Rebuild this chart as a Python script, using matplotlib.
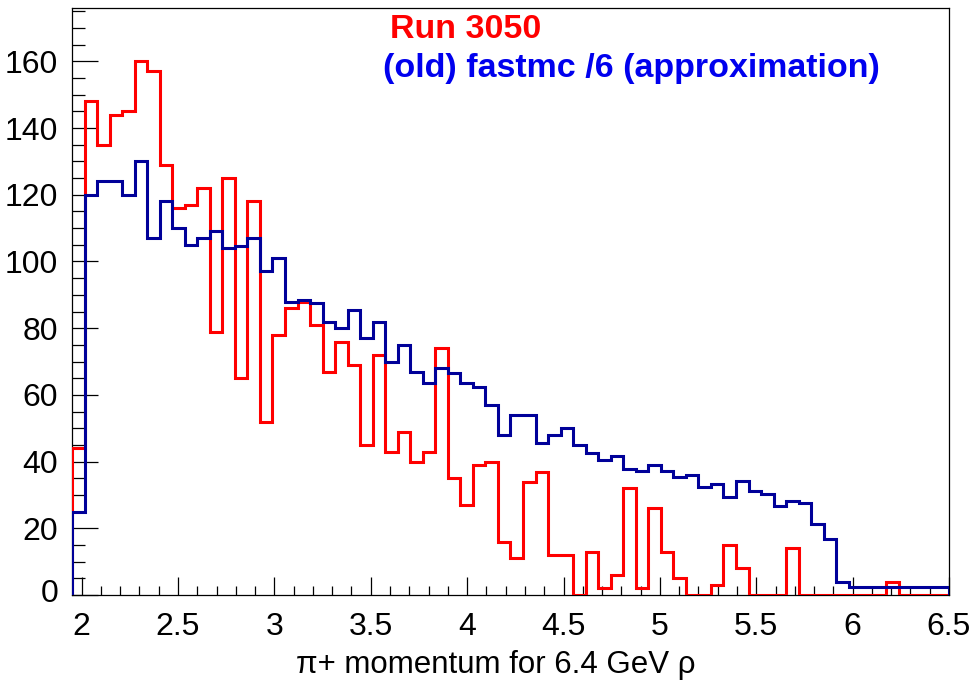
import numpy as np
import matplotlib
matplotlib.use("Agg")
import matplotlib.pyplot as plt
from matplotlib.ticker import MultipleLocator, FixedLocator, FixedFormatter
from matplotlib.transforms import ScaledTranslation

# Histogram binning: 100 bins over [0, 6.5], shown from bin 30 (1.95) upward
bin_lo, bin_hi, n_bins = 1.95, 6.5, 70
edges = np.linspace(bin_lo, bin_hi, n_bins + 1)

# Run 3050 data (counts per bin)
run3050 = [44, 148, 135, 144, 145, 160, 157, 129, 116, 117,
           122, 79, 125, 65, 118, 52, 78, 86, 88, 81,
           67, 76, 69, 45, 72, 43, 49, 40, 43, 74,
           35, 27, 39, 40, 16, 11, 34, 37, 12, 12,
           0, 13, 2, 6, 32, 2, 26, 13, 5, 0,
           0, 3, 15, 8, 0, 0, 0, 14, 0, 0,
           0, 0, 0, 0, 0, 4, 0, 0, 0, 0]

# (old) fastmc, scaled by 1/6
fastmc = [25, 120, 124, 124, 120, 130, 107, 118, 110, 105,
          107, 109, 104, 104.5, 107, 97, 101, 88, 88.5, 87.5,
          82, 80, 85.5, 77, 82, 70, 75, 67, 63.5, 68,
          66.5, 63.5, 62.5, 57, 48, 54, 54, 45.5, 48, 50,
          45, 42.7, 40.5, 41.7, 37.7, 37.2, 39, 37.2, 35.5, 36,
          32.3, 33.3, 29.5, 34.2, 31.1, 30.4, 26.7, 28.2, 27.7, 21.3,
          16.8, 3.9, 2.4, 2.4, 2.4, 2.4, 2.4, 2.4, 2.4, 2.4]

x_ticks = [2.0, 2.5, 3.0, 3.5, 4.0, 4.5, 5.0, 5.5, 6.0, 6.5]
x_tick_labels = ["2", "2.5", "3", "3.5", "4", "4.5", "5", "5.5", "6", "6.5"]
y_ticks = [0, 20, 40, 60, 80, 100, 120, 140, 160]
y_tick_labels = ["0", "20", "40", "60", "80", "100", "120", "140", "160"]

plt.rcParams["font.family"] = ["Liberation Sans", "DejaVu Sans"]

W, H = 976, 690
fig = plt.figure(figsize=(W / 100, H / 100), dpi=100)
ax = fig.add_axes([72 / W, 1 - 595 / H, (949 - 72) / W, (595 - 8) / H])

lw = 2.2
ax.stairs(run3050, edges, baseline=0, color="#ff0000", linewidth=lw, zorder=3)
ax.stairs(fastmc, edges, baseline=0, color="#000099", linewidth=lw, zorder=4)

ax.set_xlim(bin_lo, bin_hi)
ax.set_ylim(0, 1.1 * max(run3050))

ax.xaxis.set_major_locator(FixedLocator(x_ticks))
ax.xaxis.set_major_formatter(FixedFormatter(x_tick_labels))
ax.xaxis.set_minor_locator(MultipleLocator(0.1))
ax.yaxis.set_major_locator(FixedLocator(y_ticks))
ax.yaxis.set_major_formatter(FixedFormatter(y_tick_labels))
ax.yaxis.set_minor_locator(MultipleLocator(5))

ax.tick_params(axis="both", which="both", direction="in", top=False,
               right=False, colors="black", width=0.9, labelsize=23)
ax.tick_params(axis="x", which="major", length=13, pad=12)
ax.tick_params(axis="x", which="minor", length=6.5)
ax.tick_params(axis="y", which="major", length=19, pad=10)
ax.tick_params(axis="y", which="minor", length=9.5)

for sp in ax.spines.values():
    sp.set_linewidth(0.9)
    sp.set_color("black")

# lift the "0" label off the x axis
fig.canvas.draw()
zero_lbl = ax.get_yticklabels()[0]
zero_lbl.set_transform(zero_lbl.get_transform()
                       + ScaledTranslation(0, 5 / 100, fig.dpi_scale_trans))

fig.text(496 / W, 1 - 665 / H, "\u03c0+ momentum for 6.4 GeV \u03c1",
         ha="center", va="center", fontsize=22.5)

fig.text(390 / W, 1 - 30 / H, "Run 3050", color="#ff0000",
         fontsize=24.5, fontweight="bold", ha="left", va="center")
fig.text(383 / W, 1 - 68 / H, "(old) fastmc /6 (approximation)",
         color="#0000ee", fontsize=24.5, fontweight="bold",
         ha="left", va="center")

fig.savefig("out.png", dpi=100, facecolor="white")
